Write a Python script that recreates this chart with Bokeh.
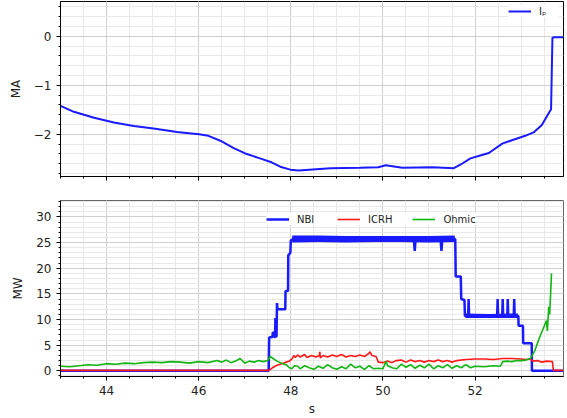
from bokeh.plotting import figure
from bokeh.layouts import column
from bokeh.models import (Range1d, SingleIntervalTicker, CustomJSTickFormatter,
                          Legend, LegendItem)
from bokeh.embed import file_html
from bokeh.resources import INLINE

# ---------------- data ----------------
ip_t = [43.0, 43.29, 43.73, 44.16, 44.59, 45.02, 45.53, 46.01, 46.21, 46.47, 46.76,
        47.01, 47.33, 47.58, 47.77, 47.99, 48.17, 48.4, 48.86, 49.5, 49.9, 50.06,
        50.42, 51.07, 51.54, 51.68, 51.9, 52.15, 52.3, 52.59, 52.8, 53.09, 53.27,
        53.45, 53.56, 53.65, 53.68, 53.72, 53.92]
ip_v = [-1.42, -1.54, -1.66, -1.76, -1.83, -1.88, -1.95, -2.0, -2.03, -2.13, -2.28,
        -2.39, -2.49, -2.57, -2.66, -2.72, -2.74, -2.72, -2.69, -2.68, -2.67, -2.63,
        -2.68, -2.67, -2.69, -2.62, -2.49, -2.42, -2.38, -2.19, -2.12, -2.03, -1.96,
        -1.81, -1.63, -1.49, -0.03, -0.02, -0.02]

nbi_t = [43.0, 47.52, 47.53, 47.6, 47.61, 47.63, 47.64, 47.66, 47.665, 47.67, 47.69,
         47.7, 47.71, 47.88, 47.885, 47.94, 47.945, 47.99, 48.0, 48.05, 50.67, 50.69,
         50.71, 51.25, 51.27, 51.29, 51.57, 51.58, 51.69, 51.7, 51.77, 51.78, 51.85,
         51.86, 51.87, 52.48, 52.49, 52.5, 52.59, 52.6, 52.61, 52.7, 52.71, 52.72,
         52.84, 52.85, 52.86, 52.94, 52.945, 53.04, 53.045, 53.23, 53.235, 53.92]
nbi_v = [0.0, 0.0, 6.5, 6.6, 7.5, 7.4, 6.6, 6.6, 10.3, 6.7, 6.7,
         13.2, 12.0, 12.0, 15.5, 15.6, 22.5, 23.0, 25.4, 25.7, 25.7, 23.4,
         25.7, 25.7, 23.4, 25.7, 25.7, 18.4, 18.4, 14.0, 13.8, 10.7, 10.7,
         14.0, 10.7, 10.7, 14.0, 10.7, 10.7, 14.0, 10.7, 10.7, 14.0, 10.7,
         10.7, 14.0, 10.7, 10.7, 8.8, 8.8, 5.4, 5.4, 0.0, 0.0]
# noise envelope of the NBI trace on its two plateaus
nbi_band1_t = [48.03, 48.6, 49.2, 49.8, 50.4, 51.0, 51.56]
nbi_band1_lo = [25.0, 25.1, 25.0, 25.1, 25.1, 25.0, 25.1]
nbi_band1_hi = [26.4, 26.4, 26.3, 26.3, 26.3, 26.3, 26.4]
nbi_band2_t = [51.79, 52.3, 52.93]
nbi_band2_lo = [10.3, 10.3, 10.3]
nbi_band2_hi = [11.2, 11.1, 11.2]

icrh_t = [43.0, 47.53, 47.6, 47.7, 47.8, 47.9, 47.97, 48.03, 48.07, 48.1, 48.15, 48.2,
          48.3, 48.35, 48.45, 48.55, 48.62, 48.63, 48.64, 48.7, 48.8, 48.9, 49.0, 49.1,
          49.2, 49.3, 49.4, 49.5, 49.6, 49.68, 49.72, 49.76, 49.85, 49.9, 50.0, 50.1,
          50.2, 50.28, 50.4, 50.5, 50.6, 50.7, 50.8, 50.9, 51.0, 51.1, 51.2, 51.3,
          51.4, 51.5, 51.6, 51.8, 52.0, 52.2, 52.4, 52.6, 52.8, 53.0, 53.1, 53.2,
          53.25, 53.35, 53.45, 53.55, 53.68, 53.7, 53.92]
icrh_v = [0.1, 0.1, 0.6, 1.1, 1.4, 1.7, 1.9, 2.4, 3.0, 2.6, 3.1, 2.7,
          3.2, 2.6, 3.0, 2.7, 3.0, 3.7, 2.5, 3.0, 2.7, 3.1, 2.8, 3.2,
          2.7, 3.0, 2.8, 3.1, 2.8, 3.3, 3.7, 3.0, 2.8, 1.7, 1.6, 1.9,
          1.6, 2.0, 2.1, 1.7, 2.1, 1.8, 2.0, 1.7, 2.0, 1.8, 2.1, 1.8,
          2.0, 1.7, 2.0, 2.2, 2.3, 2.3, 2.2, 2.4, 2.4, 2.3, 2.2, 2.3,
          1.9, 2.0, 1.7, 1.9, 1.8, 0.1, 0.1]

ohm_t = [43.0, 43.2, 43.4, 43.6, 43.8, 44.0, 44.2, 44.4, 44.6, 44.8, 45.0, 45.2, 45.4,
         45.6, 45.8, 46.0, 46.2, 46.4, 46.5, 46.6, 46.7, 46.8, 46.9, 47.0, 47.1, 47.2,
         47.3, 47.4, 47.5, 47.55, 47.6, 47.7, 47.8, 47.9, 47.97, 48.02, 48.08, 48.15,
         48.2, 48.3, 48.4, 48.5, 48.6, 48.7, 48.8, 48.9, 49.0, 49.1, 49.2, 49.3, 49.4,
         49.5, 49.6, 49.7, 49.8, 49.9, 50.0, 50.07, 50.1, 50.2, 50.3, 50.4, 50.5, 50.6,
         50.7, 50.8, 50.9, 51.0, 51.1, 51.2, 51.3, 51.4, 51.5, 51.6, 51.7, 51.8, 51.9,
         52.0, 52.2, 52.4, 52.55, 52.6, 52.7, 52.8, 52.9, 53.0, 53.1, 53.2, 53.3, 53.4,
         53.5, 53.55, 53.57, 53.6, 53.62, 53.66]
ohm_v = [0.9, 0.8, 1.0, 1.2, 1.1, 1.4, 1.3, 1.5, 1.4, 1.6, 1.7, 1.6, 1.8,
         1.7, 1.5, 1.8, 1.6, 2.0, 1.7, 2.1, 1.6, 1.9, 2.4, 1.5, 1.9, 1.7,
         2.0, 1.8, 2.0, 2.8, 2.5, 1.9, 1.5, 1.2, 0.6, 0.4, 1.0, 0.9,
         0.4, 1.0, 0.6, 0.3, 0.9, 0.5, 1.2, 0.6, 0.3, 0.8, 0.4, 1.3, 0.6,
         0.9, 0.3, 1.0, 0.4, 0.5, 0.4, 1.9, 1.0, 0.6, 0.4, 1.3, 0.7, 1.2,
         0.5, 1.1, 0.6, 1.3, 0.4, 1.0, 0.6, 1.2, 0.5, 1.0, 0.6, 1.2, 0.6,
         0.9, 0.8, 1.0, 0.9, 1.8, 1.9, 1.8, 2.0, 2.0, 2.1, 2.4, 4.0, 6.5,
         8.7, 9.8, 7.8, 12.5, 11.0, 19.0]

x_lim = (43.0, 53.92)
ip_lim = (-2.86, 0.71)
pw_lim = (-1.1, 33.2)

FONT = "DejaVu Sans"
TXT = "#222222"
neg_fmt = "return tick < 0 ? '\\u2212' + Math.abs(tick) : '' + tick;"


def style(p, y_interval, y_minor):
    p.xaxis.ticker = SingleIntervalTicker(interval=2, num_minor_ticks=4)
    p.yaxis.ticker = SingleIntervalTicker(interval=y_interval, num_minor_ticks=y_minor)
    p.yaxis.formatter = CustomJSTickFormatter(code=neg_fmt)
    for ax in (p.xaxis, p.yaxis):
        ax.axis_line_color = "black"
        ax.major_tick_line_color = "black"
        ax.minor_tick_line_color = "black"
        ax.major_tick_in = 0
        ax.major_tick_out = 4
        ax.minor_tick_in = 0
        ax.minor_tick_out = 2
        ax.major_label_text_font = FONT
        ax.major_label_text_font_size = "12px"
        ax.major_label_text_color = TXT
        ax.axis_label_text_font = FONT
        ax.axis_label_text_font_size = "12px"
        ax.axis_label_text_font_style = "normal"
        ax.axis_label_text_color = TXT
        ax.major_label_standoff = 5
    p.yaxis.axis_label_standoff = 8
    for g in (p.xgrid, p.ygrid):
        g.grid_line_color = "#cfcfcf"
        g.grid_line_width = 1
        g.minor_grid_line_color = "#e8e8e8"
        g.minor_grid_line_width = 1


top = figure(width=567, height=200, output_backend="svg", toolbar_location=None,
             x_range=Range1d(*x_lim), y_range=Range1d(*ip_lim),
             min_border_left=60, min_border_right=4, min_border_top=1,
             min_border_bottom=24, background_fill_color="white",
             outline_line_color="black", outline_line_width=1)
style(top, 1, 5)
top.yaxis.axis_label = "MA"
top.xaxis.formatter = CustomJSTickFormatter(code="return '';")
top.xaxis.major_label_standoff = 0
r_ip = top.line(ip_t, ip_v, line_color="#1a1aff", line_width=2)
leg_top = Legend(items=[LegendItem(label="I\u209a", renderers=[r_ip])],
                 location="top_right", border_line_color=None,
                 background_fill_color="white", background_fill_alpha=1.0,
                 label_text_font=FONT, label_text_font_size="10px",
                 label_text_color=TXT, glyph_width=23, glyph_height=12,
                 label_standoff=8, padding=6, margin=4)
top.add_layout(leg_top)

bot = figure(width=567, height=218, output_backend="svg", toolbar_location=None,
             x_range=Range1d(*x_lim), y_range=Range1d(*pw_lim),
             min_border_left=60, min_border_right=4, min_border_top=0,
             min_border_bottom=42, background_fill_color="white",
             outline_line_color="#666666", outline_line_width=1)
style(bot, 5, 5)
bot.yaxis.axis_label = "MW"
bot.xaxis.axis_label = "s"
bot.xaxis.axis_label_standoff = 4
bot.varea(x=nbi_band1_t, y1=nbi_band1_lo, y2=nbi_band1_hi, fill_color="#1a1aff")
bot.varea(x=nbi_band2_t, y1=nbi_band2_lo, y2=nbi_band2_hi, fill_color="#1a1aff")
r_nbi = bot.line(nbi_t, nbi_v, line_color="#1a1aff", line_width=2.5)
r_icrh = bot.line(icrh_t, icrh_v, line_color="#ff1a1a", line_width=1.6)
r_ohm = bot.line(ohm_t, ohm_v, line_color="#12b512", line_width=1.6)
leg_bot = Legend(items=[LegendItem(label="NBI", renderers=[r_nbi]),
                        LegendItem(label="ICRH", renderers=[r_icrh]),
                        LegendItem(label="Ohmic", renderers=[r_ohm])],
                 orientation="horizontal", location=(206, 151),
                 border_line_color=None, background_fill_color="white",
                 background_fill_alpha=1.0, label_text_font=FONT,
                 label_text_font_size="10px", label_text_color=TXT,
                 glyph_width=23, glyph_height=12, label_standoff=8,
                 spacing=20, padding=6, margin=0)
bot.add_layout(leg_bot)

layout = column(top, bot, spacing=0)

open("out.html", "w").write(file_html(layout, INLINE))
